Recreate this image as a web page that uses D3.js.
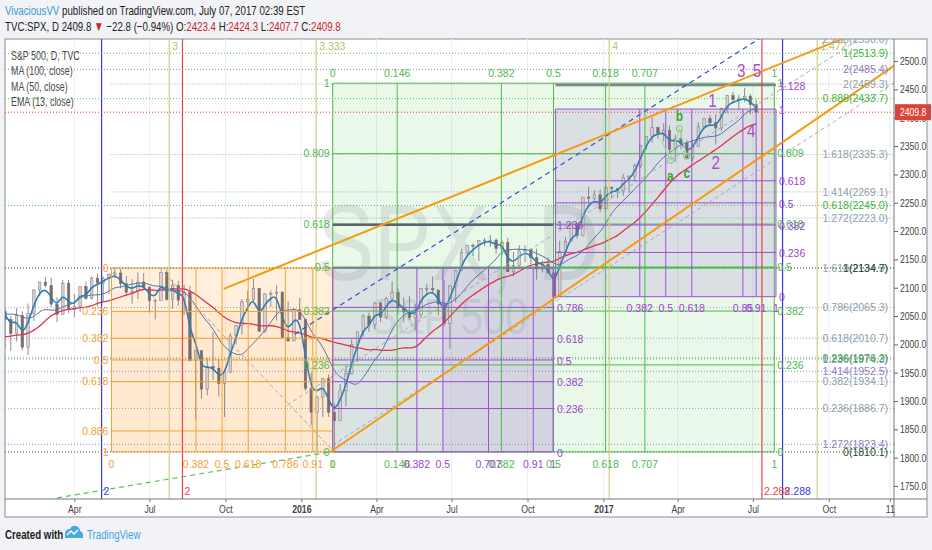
<!DOCTYPE html>
<html>
<head>
<meta charset="utf-8">
<script src="https://cdn.jsdelivr.net/npm/d3@7"></script>
<style>
  body { margin: 0; background: #f1f3f6; }
  svg { display: block; }
  text { font-family: "Liberation Sans", Arial, sans-serif; }
</style>
</head>
<body>
<svg id="chart" width="932" height="550"></svg>
<script>
// ---- price data: weekly bars (Friday of each week), first week 2014-08-01 ----
const firstWeek = "2014-08-01";
const closes = [
  // 2014 Aug-Dec
  1925,1931,1955,1988,2003, 2007,1985,2010,1982, 1967,1906,1886,1964,2018, 2032,2039,2064,2068, 2075,2002,2071,2088,
  // 2015
  2058,2044,2019,2051,1995, 2055,2096,2110,2104, 2071,2053,2108,2061, 2067,2102,2081,2117, 2108,2116,2123,2126,2107,
  2092,2094,2110,2101, 2077,2077,2127,2079,2104, 2078,2092,1971,1989, 1921,1961,1958,1931, 1951,2015,2033,2075,2079,
  2099,2023,2089,2090, 2092,2012,2006,2061,
  // 2016
  2044, 1922,1880,1907,1940, 1880,1865,1918,1948, 2000,2022,2050,2035, 2073,2048,2081,2092,2065, 2057,2047,2052,2099,
  2099,2096,2071,2037, 2103,2130,2162,2175,2174, 2183,2184,2184,2169, 2180,2128,2139,2165,2168, 2153,2133,2141,2126,
  2085,2164,2182,2213, 2192,2260,2258,2264,2239,
  // 2017
  2277,2275,2271,2295, 2297,2316,2351,2367, 2383,2373,2378,2344,2363, 2355,2329,2349,2384, 2399,2391,2382,2416,
  2439,2432,2433,2438,2423, 2409.8
];
const highs = [
  1985,1942,1964,1991,2005, 2011,2007,2019,2011, 1986,1977,1912,1965,2018, 2034,2046,2071,2075, 2079,2076,2077,2093,
  2089,2064,2050,2064,2058, 2072,2097,2110,2119, 2117,2083,2114,2114, 2089,2102,2111,2120, 2125,2120,2125,2135,2133,
  2121,2115,2127,2126, 2102,2081,2129,2132,2114, 2112,2105,2103,1990, 1986,1976,2021,1974, 1953,2020,2034,2080,2094,
  2116,2100,2090,2095, 2104,2094,2076,2064,
  2082, 2038,1950,1909,1940, 1947,1896,1930,1962, 2009,2022,2053,2056, 2075,2075,2084,2111,2099, 2083,2085,2071,2100,
  2107,2120,2096,2113, 2104,2131,2169,2175,2178, 2183,2188,2193,2187, 2184,2188,2163,2175,2175, 2169,2169,2148,2153,
  2131,2183,2190,2214, 2212,2260,2278,2272,2273,
  2282,2279,2276,2301, 2298,2319,2352,2368, 2401,2384,2390,2386,2370, 2378,2361,2361,2392, 2399,2404,2406,2418,
  2440,2446,2441,2453,2442, 2432
];
const lows = [
  1916,1905,1928,1955,1990, 1995,1983,1978,1965, 1926,1905,1821,1886,1960, 2001,2030,2034,2062, 2049,2002,1972,2069,
  2046,1992,1988,2005,1989, 1981,2041,2085,2101, 2066,2039,2053,2055, 2048,2057,2079,2079, 2067,2075,2089,2117,2099,
  2085,2072,2080,2098, 2056,2044,2080,2077,2063, 2068,2052,1970,1867, 1904,1910,1937,1908, 1872,1949,2000,2017,2058,
  2075,2022,2020,2066, 2042,2012,2005,2006,
  2043, 1918,1857,1812,1872, 1872,1810,1865,1891, 1947,1969,2014,2022, 2027,2039,2044,2078,2053, 2039,2043,2025,2047,
  2087,2089,2051,2032, 1992,2074,2131,2159,2156, 2147,2173,2172,2160, 2157,2128,2120,2135,2145, 2142,2114,2127,2125,
  2084,2097,2156,2183, 2187,2191,2248,2254,2233,
  2245,2258,2258,2262, 2267,2288,2311,2344, 2356,2363,2358,2339,2322, 2344,2328,2323,2349, 2380,2387,2353,2377,
  2408,2425,2415,2428,2406, 2407.7
];
const lastBar = [2423.4, 2424.3, 2407.7, 2409.8]; // O H L C of the last day
const lastChange = [-22.8, -0.94];

// ---- axes ----
const priceTicks = [1750,1800,1850,1900,1950,2000,2050,2100,2150,2200,2250,2300,2350,2400,2450,2500];
const timeTicks = ["2015-04-01","2015-07-01","2015-10-01","2016-01-01","2016-04-01","2016-07-01","2016-10-01",
                   "2017-01-01","2017-04-01","2017-07-01","2017-10-01","2017-12-14"];
const timeTickLabels = ["Apr","Jul","Oct","2016","Apr","Jul","Oct","2017","Apr","Jul","Oct","11"];

// ---- fib extension levels shown on the right (label, price, colour group, start date or null) ----
const extLabels = ["2.236(2550.0)","1(2513.9)","2(2485.4)","2(2459.3)","0.886(2433.7)","1.618(2335.3)","1.414(2269.1)",
  "0.618(2245.0)","1.272(2223.0)","1.618(2134.9)","1(2134.7)","0.786(2065.3)","0.618(2010.7)","1.236(1974.3)",
  "0.236(1976.2)","1.414(1952.5)","0.382(1934.1)","0.236(1886.7)","1.272(1823.4)","0(1810.1)"];
const extPrices = [2550,2513.9,2485.4,2459.3,2433.7,2335.3,2269.1,2245.0,2223.0,2134.9,2134.7,2065.3,2010.7,1974.3,
  1976.2,1952.5,1934.1,1886.7,1823.4,1810.1];
const extGroups = ["gray","green","purple","gray","green","gray","gray","green","gray","gray","dark","gray","gray",
  "purple","green","purple","gray","gray","purple","dark"];
const extStarts = [null,null,null,"2015-05-16",null,"2015-05-16","2015-05-16",null,"2015-05-16",null,null,null,null,
  null,null,null,null,null,null,null];

// ---- fib boxes: [start, end, price at level 0, price at level 1] ----
const orangeBox = ["2015-05-16","2016-02-08",2134.7,1810.1];
const orangePriceLevels = [0,0.236,0.382,0.5,0.618,0.886,1];
const orangeTimeLevels = [0,0.382,0.5,0.618,0.786,0.91,1];
const greenBox = ["2016-02-08","2017-07-27",1810.1,2461];
const greenPriceLevels = [0,0.236,0.382,0.5,0.618,0.809,1];
const greenTimeLevels = [0,0.146,0.382,0.5,0.618,0.707,1];
const purpleBoxA = ["2016-02-08","2016-11-01",1810.1,2134.7];
const purpleAPriceLevels = [0,0.236,0.382,0.5,0.618,0.786,1,1.236];
const purpleATimeLevels = [0,0.382,0.5,0.707,0.91,1];
const purpleBoxB = ["2016-11-04","2017-07-29",2084.1,2415.3];
const purpleBPriceLevels = [0,0.236,0.382,0.5,0.618,1,1.128];
const purpleBTimeLevels = [0,0.382,0.5,0.618,0.85,0.91,1];

// ---- trend lines: [date1, price1, date2, price2] ----
const upperOrange = ["2015-09-29",2098,"2017-08-15",2502];
const lowerOrange = ["2016-02-05",1810,"2017-08-15",2366];
const greenDashed = ["2015-03-11",1729,"2016-02-05",1810];
const blueDashed = ["2015-12-24",2018,"2017-07-06",2537];
const grayDashedA = ["2015-12-15",1893,"2017-09-04",2479];
const grayDashedB = ["2016-02-08",1822,"2017-08-15",2343];
const grayDiag = ["2015-07-13",2134.7,"2016-02-10",1810];

// ---- vertical time lines ----
const oliveDates = ["2015-07-25","2016-01-19","2017-01-08","2017-09-17"];
const oliveLabels = ["3","3.333","4","1.472"];
const blueDates = ["2015-05-04","2017-08-06"];
const blueLabels = ["2","2.288"];
const redDates = ["2015-08-10","2017-07-12"];
const redLabels = ["2","2.288"];

// ---- wave counts ----
const waveDates = ["2017-05-13","2017-05-17","2017-06-17","2017-06-29","2017-07-06"];
const wavePrices = [2431,2322,2483,2378,2484];
const waveLabels = ["1","2","3","4","5"];
const abcDates = ["2017-03-23","2017-04-03","2017-04-12"];
const abcPrices = [2297,2403,2303];
const abcLabels = ["a","b","c"];
const abcPivotDates = ["2017-03-12","2017-03-23","2017-04-03","2017-04-12"];
const abcPivotPrices = [2361,2325,2381,2332];

const legendLines = ["S&P 500, D, TVC","MA (100, close)","MA (50, close)","EMA (13, close)"];

// ---------------------------------------------------------------------
const parse = d3.timeParse("%Y-%m-%d");
const svg = d3.select("#chart");
const plot = {left: 5, top: 39, right: 894, bottom: 499};
const NARROW = 0.72; // squeeze for the condensed UI font

const x = d3.scaleTime()
    .domain([parse("2015-01-07"), parse("2017-12-19")])
    .range([plot.left, plot.right]);
const y = d3.scaleLinear()
    .domain([1727, 2539])
    .range([plot.bottom, plot.top]);

const colors = {
  gray: "#8fa1ad", green: "#4cbb4c", purple: "#8d7fc4", dark: "#2f4f3a",
  orange: "#f7a030", purpleLine: "#a24cd6", olive: "#cfcf8a", red: "#e8424a", blue: "#3b3bd0"
};

// condensed text: a group that squeezes its text horizontally
function narrowText(parent, px, py, size, sx) {
  return parent.append("g").attr("transform", `translate(${px},${py}) scale(${sx || NARROW},1)`)
    .append("text").attr("font-size", size);
}

// frame
svg.append("rect").attr("x", 5).attr("y", 39).attr("width", 922).attr("height", 478)
    .attr("fill", "#fff").attr("stroke", "#8a8f96");

svg.append("defs").append("clipPath").attr("id", "clip")
  .append("rect").attr("x", plot.left).attr("y", plot.top)
  .attr("width", plot.right - plot.left).attr("height", plot.bottom - plot.top);

const g = svg.append("g").attr("clip-path", "url(#clip)");

// vertical grid
g.selectAll(".vgrid").data(timeTicks).enter().append("line")
    .attr("x1", d => x(parse(d))).attr("x2", d => x(parse(d)))
    .attr("y1", plot.top).attr("y2", plot.bottom)
    .attr("stroke", "#eceef1");

// watermark
narrowText(g, 458, 280, 108, 0.8).attr("text-anchor", "middle").attr("fill", "#e8e9ec").text("SPX, D");
narrowText(g, 449, 334, 50, 0.8).attr("text-anchor", "middle").attr("fill", "#e8e9ec").text("S&P 500");

// helpers for boxes
function boxGeom(b) {
  const x0 = x(parse(b[0])), x1 = x(parse(b[1]));
  const py = lv => y(b[2] + lv * (b[3] - b[2]));
  return {x0, x1, py, xt: lv => x0 + lv * (x1 - x0)};
}
function boxFill(b, fill) {
  const bg = boxGeom(b);
  const yA = bg.py(0), yB = bg.py(1);
  g.append("rect").attr("x", bg.x0).attr("y", Math.min(yA, yB))
      .attr("width", bg.x1 - bg.x0).attr("height", Math.abs(yB - yA)).attr("fill", fill);
}
function boxLines(b, pLevels, tLevels, color, extraColor) {
  const bg = boxGeom(b);
  g.selectAll(null).data(pLevels).enter().append("line")
      .attr("x1", bg.x0).attr("x2", bg.x1)
      .attr("y1", d => bg.py(d)).attr("y2", d => bg.py(d))
      .attr("stroke", d => d > 1 ? extraColor : color)
      .attr("stroke-width", d => d > 1 ? 2.5 : (d === 0.5 && color === colors.green ? 2 : 1));
  const yA = bg.py(0), yB = bg.py(1);
  g.selectAll(null).data(tLevels).enter().append("line")
      .attr("x1", d => bg.xt(d)).attr("x2", d => bg.xt(d))
      .attr("y1", yA).attr("y2", yB)
      .attr("stroke", color).attr("stroke-width", 1);
}

boxFill(greenBox, "rgba(90,200,90,0.13)");
boxFill(orangeBox, "rgba(255,160,40,0.17)");
boxFill(purpleBoxA, "rgba(110,70,170,0.12)");
{
  const bg = boxGeom(purpleBoxA);
  g.append("rect").attr("x", bg.xt(0.5)).attr("y", bg.py(1))
      .attr("width", bg.x1 - bg.xt(0.5)).attr("height", bg.py(0) - bg.py(1))
      .attr("fill", "rgba(150,60,200,0.08)");
}
boxFill(purpleBoxB, "rgba(120,70,190,0.14)");

// orange box cell shading
{
  const bg = boxGeom(orangeBox);
  g.append("rect").attr("x", bg.x0).attr("y", bg.py(0.236))
      .attr("width", bg.x1 - bg.x0).attr("height", bg.py(1) - bg.py(0.236))
      .attr("fill", "rgba(255,160,40,0.06)");
}

// dotted extension levels
extLabels.forEach((lab, i) => {
  const yy = y(extPrices[i]);
  const xs = extStarts[i] ? x(parse(extStarts[i])) : plot.left;
  g.append("line").attr("x1", xs).attr("x2", plot.right).attr("y1", yy).attr("y2", yy)
      .attr("stroke", colors[extGroups[i]]).attr("stroke-dasharray", "1,2").attr("opacity", 0.9);
});

// red last price line
g.append("line").attr("x1", plot.left).attr("x2", plot.right)
    .attr("y1", y(lastBar[3])).attr("y2", y(lastBar[3]))
    .attr("stroke", "#e53935").attr("stroke-dasharray", "1,2");

// candles
const start = parse(firstWeek);
const bars = closes.map((c, i) => ({
  date: d3.timeDay.offset(start, i * 7 - 2),
  o: i ? closes[i - 1] : c, h: highs[i], l: lows[i], c: c
}));
const candle = g.selectAll(".candle").data(bars).enter().append("g");
candle.append("line")
    .attr("x1", d => x(d.date)).attr("x2", d => x(d.date))
    .attr("y1", d => y(d.h)).attr("y2", d => y(d.l))
    .attr("stroke", "#6f7478").attr("stroke-width", 0.8);
candle.append("rect")
    .attr("x", d => x(d.date) - 1.3).attr("width", 2.6)
    .attr("y", d => y(Math.max(d.o, d.c)))
    .attr("height", d => Math.max(1, Math.abs(y(d.o) - y(d.c))))
    .attr("fill", d => d.c >= d.o ? "#d9d2d0" : "#7a6a6a")
    .attr("stroke", "#7c7276").attr("stroke-width", 0.5);

// moving averages (100d ~ 20 weeks, 50d ~ 10 weeks, EMA13d ~ alpha .55 weekly)
function sma(vals, n) {
  return vals.map((v, i) => i < n - 1 ? null : d3.mean(vals.slice(i - n + 1, i + 1)));
}
function ema(vals, a) {
  let e;
  return vals.map(v => e = (e === undefined ? v : a * v + (1 - a) * e));
}
const maLine = d3.line()
    .defined(d => d[1] != null)
    .x(d => x(d[0])).y(d => y(d[1]))
    .curve(d3.curveBasis);
const dates = bars.map(d => d.date);
g.append("path").datum(d3.zip(dates, sma(closes, 20)))
    .attr("d", maLine).attr("fill", "none").attr("stroke", "#e0344a").attr("stroke-width", 1.3);
g.append("path").datum(d3.zip(dates, sma(closes, 10)))
    .attr("d", maLine).attr("fill", "none").attr("stroke", "#5a6fa8").attr("stroke-width", 1);
g.append("path").datum(d3.zip(dates, ema(closes, 0.55)))
    .attr("d", maLine).attr("fill", "none").attr("stroke", "#2d7eb5").attr("stroke-width", 1.6);

// box lines (on top of price)
boxLines(greenBox, greenPriceLevels, greenTimeLevels, colors.green, "#667");
boxLines(orangeBox, orangePriceLevels, orangeTimeLevels, colors.orange, colors.orange);
boxLines(purpleBoxA, purpleAPriceLevels, purpleATimeLevels, colors.purpleLine, "#5d6470");
boxLines(purpleBoxB, purpleBPriceLevels, purpleBTimeLevels, colors.purpleLine, "#7d8590");

// vertical time lines
function vlines(ds, color, w) {
  g.selectAll(null).data(ds).enter().append("line")
      .attr("x1", d => x(parse(d))).attr("x2", d => x(parse(d)))
      .attr("y1", plot.top).attr("y2", plot.bottom)
      .attr("stroke", color).attr("stroke-width", w);
}
vlines(oliveDates, colors.olive, 1.2);
vlines(blueDates, colors.blue, 1.2);
vlines(redDates, colors.red, 1.2);

// trend lines, extended as rays to the right
function trend(t, color, w, dash, extend) {
  const x1 = x(parse(t[0])), y1 = y(t[1]), x2 = x(parse(t[2])), y2 = y(t[3]);
  let xe = x2, ye = y2;
  if (extend) {
    const k = (y2 - y1) / (x2 - x1);
    xe = plot.right + 50; ye = y1 + k * (xe - x1);
  }
  g.append("line").attr("x1", x1).attr("y1", y1).attr("x2", xe).attr("y2", ye)
      .attr("stroke", color).attr("stroke-width", w)
      .attr("stroke-dasharray", dash || null);
}
trend(grayDiag, "#a8a8a8", 1, "4,3", false);
trend(grayDashedA, "#a3abc0", 1, "4,3", true);
trend(grayDashedB, "#a3abc0", 1, "4,3", true);
trend(greenDashed, "#5cc05c", 1.2, "5,4", false);
trend(blueDashed, "#3a4ad8", 1.2, "5,4", true);
trend(upperOrange, "#f39c12", 2, null, true);
trend(lowerOrange, "#f39c12", 2, null, true);

// abc pivots
const abcLine = d3.line().x(d => x(parse(d[0]))).y(d => y(d[1]));
g.append("path").datum(d3.zip(abcPivotDates, abcPivotPrices)).attr("d", abcLine)
    .attr("fill", "none").attr("stroke", "#9fdc9f").attr("stroke-width", 1.2);
g.selectAll(null).data(d3.zip(abcPivotDates, abcPivotPrices).slice(1)).enter().append("circle")
    .attr("cx", d => x(parse(d[0]))).attr("cy", d => y(d[1])).attr("r", 3)
    .attr("fill", "none").attr("stroke", "#8fcf8f").attr("stroke-width", 1.2);
abcLabels.forEach((t, i) => {
  narrowText(g, x(parse(abcDates[i])), y(abcPrices[i]), 14, 0.85)
      .attr("text-anchor", "middle").attr("dy", "0.35em").attr("font-weight", "bold")
      .attr("fill", "#3aa33a").text(t);
});
waveLabels.forEach((t, i) => {
  narrowText(g, x(parse(waveDates[i])), y(wavePrices[i]), 19, 0.8)
      .attr("text-anchor", "middle").attr("dy", "0.35em")
      .attr("fill", "#a94fc4").text(t);
});

// ---- labels for boxes ----
const lab = g.append("g").attr("font-size", 10.5);
function tLabel(px, py, txt, color, anchor) {
  lab.append("text").attr("x", px).attr("y", py).attr("dy", "0.35em")
      .attr("text-anchor", anchor || "middle").attr("fill", color).text(txt);
}
{
  const bg = boxGeom(orangeBox);
  orangePriceLevels.forEach(l => tLabel(bg.x0 - 3, bg.py(l), String(l), colors.orange, "end"));
  orangeTimeLevels.forEach(l => tLabel(bg.xt(l), bg.py(1) + 12, String(l), colors.orange));
}
{
  const bg = boxGeom(greenBox);
  greenPriceLevels.forEach(l => {
    tLabel(bg.x0 - 3, bg.py(l), String(l), colors.green, "end");
    tLabel(bg.x1 + 3, bg.py(l), String(l), colors.green, "start");
  });
  greenTimeLevels.forEach(l => {
    tLabel(bg.xt(l), bg.py(1) - 10, String(l), colors.green);
    tLabel(bg.xt(l), bg.py(0) + 12, String(l), colors.green);
  });
}
{
  const bg = boxGeom(purpleBoxA);
  purpleAPriceLevels.filter(l => l !== 1).forEach(l =>
      tLabel(bg.x1 + 4, bg.py(l) + 1, String(l), "#9b45d0", "start"));
  purpleATimeLevels.slice(1).forEach(l => tLabel(bg.xt(l), bg.py(0) + 12, String(l), "#9b45d0"));
}
{
  const bg = boxGeom(purpleBoxB);
  purpleBPriceLevels.forEach(l => tLabel(bg.x1 + 3, bg.py(l) + 1, String(l), "#9b45d0", "start"));
  purpleBTimeLevels.slice(1).forEach(l => tLabel(bg.xt(l), bg.py(0) + 12, String(l), "#9b45d0"));
}

// vertical line labels
oliveLabels.forEach((t, i) => tLabel(x(parse(oliveDates[i])) + 3, 46, t, "#bdbd6c", "start"));
blueLabels.forEach((t, i) => tLabel(x(parse(blueDates[i])) + 2, 491, t, colors.blue, "start"));
redLabels.forEach((t, i) => tLabel(x(parse(redDates[i])) + 2, 491, t, colors.red, "start"));

// right-hand extension labels
const extColorText = {gray: "#8d9ea9", green: "#3fb43f", purple: "#8a80c0", dark: "#1f4a2c"};
extLabels.forEach((t, i) => {
  tLabel(888, Math.max(y(extPrices[i]), plot.top), t, extColorText[extGroups[i]], "end");
});

// legend
legendLines.forEach((t, i) => {
  narrowText(svg, 11, 60 + i * 15.3, 12, 0.74).attr("fill", "#4a4a4a").text(t);
});

// ---- price axis ----
svg.append("line").attr("x1", plot.right).attr("x2", plot.right)
    .attr("y1", plot.top).attr("y2", 517).attr("stroke", "#777");
const yAxis = svg.append("g").attr("transform", `translate(${plot.right},0)`)
    .call(d3.axisRight(y).tickValues(priceTicks).tickSize(4).tickFormat(d3.format(".1f")));
yAxis.select(".domain").remove();
yAxis.selectAll("line").attr("stroke", "#666");
yAxis.selectAll("text").attr("font-size", 11).attr("fill", "#444").attr("x", 6 / 0.78)
    .attr("transform", "scale(0.78,1)")
    .attr("font-family", "'Liberation Sans',Arial,sans-serif");

// last price tag
svg.append("rect").attr("x", plot.right + 1).attr("y", y(lastBar[3]) - 8)
    .attr("width", 36).attr("height", 16).attr("fill", "#d9443a");
narrowText(svg, plot.right + 6, y(lastBar[3]), 11, 0.78).attr("dy", "0.35em")
    .attr("fill", "#fff").text(lastBar[3].toFixed(1));

// ---- time axis ----
svg.append("line").attr("x1", 5).attr("x2", 927).attr("y1", plot.bottom).attr("y2", plot.bottom)
    .attr("stroke", "#777");
const xAxis = svg.append("g").attr("transform", `translate(0,${plot.bottom})`)
    .call(d3.axisBottom(x).tickValues(timeTicks.map(parse)).tickSize(3)
      .tickFormat((d, i) => timeTickLabels[i]));
xAxis.select(".domain").remove();
xAxis.selectAll("line").attr("stroke", "#777");
xAxis.selectAll("text").attr("font-size", 11.5).attr("fill", "#444").attr("y", 6)
    .attr("transform", "scale(0.76,1)")
    .attr("font-weight", (d, i) => /^\d{4}$/.test(timeTickLabels[i]) ? "bold" : null)
    .attr("font-family", "'Liberation Sans',Arial,sans-serif");

// ---- header ----
const h1 = narrowText(svg, 5, 15, 13.5);
h1.append("tspan").attr("fill", "#3a9ad9").text("VivaciousVV");
h1.append("tspan").attr("fill", "#222").text(" published on TradingView.com, July 07, 2017 02:39 EST");
const h2 = narrowText(svg, 5, 31, 13.5).attr("fill", "#222");
h2.append("tspan").text(`TVC:SPX, D  ${lastBar[3].toFixed(1)} `);
h2.append("tspan").attr("fill", "#c62828").text("\u25BC");
h2.append("tspan").text(` \u2212${Math.abs(lastChange[0])} (\u2212${Math.abs(lastChange[1])}%) O:`);
h2.append("tspan").attr("fill", "#c62828").text(lastBar[0].toFixed(1));
h2.append("tspan").text(" H:");
h2.append("tspan").attr("fill", "#c62828").text(lastBar[1].toFixed(1));
h2.append("tspan").text(" L:");
h2.append("tspan").attr("fill", "#c62828").text(lastBar[2].toFixed(1));
h2.append("tspan").text(" C:");
h2.append("tspan").attr("fill", "#c62828").text(lastBar[3].toFixed(1));

// ---- footer ----
narrowText(svg, 5, 539, 13.5).attr("fill", "#222").attr("font-weight", "bold").text("Created with");
svg.append("path")
    .attr("d", "M65,538 L65,534 Q65,529 70,529 Q72,525 76,526 Q80,527 80,531 Q83,532 83,535 L83,538 Z")
    .attr("fill", "#4aa8e0");
svg.append("path").attr("d", "M67,535 L71,531 L74,534 L78,530")
    .attr("fill", "none").attr("stroke", "#fff").attr("stroke-width", 1.4);
narrowText(svg, 87, 539, 13.5).attr("fill", "#3ca5df").text("TradingView");
</script>
</body>
</html>
